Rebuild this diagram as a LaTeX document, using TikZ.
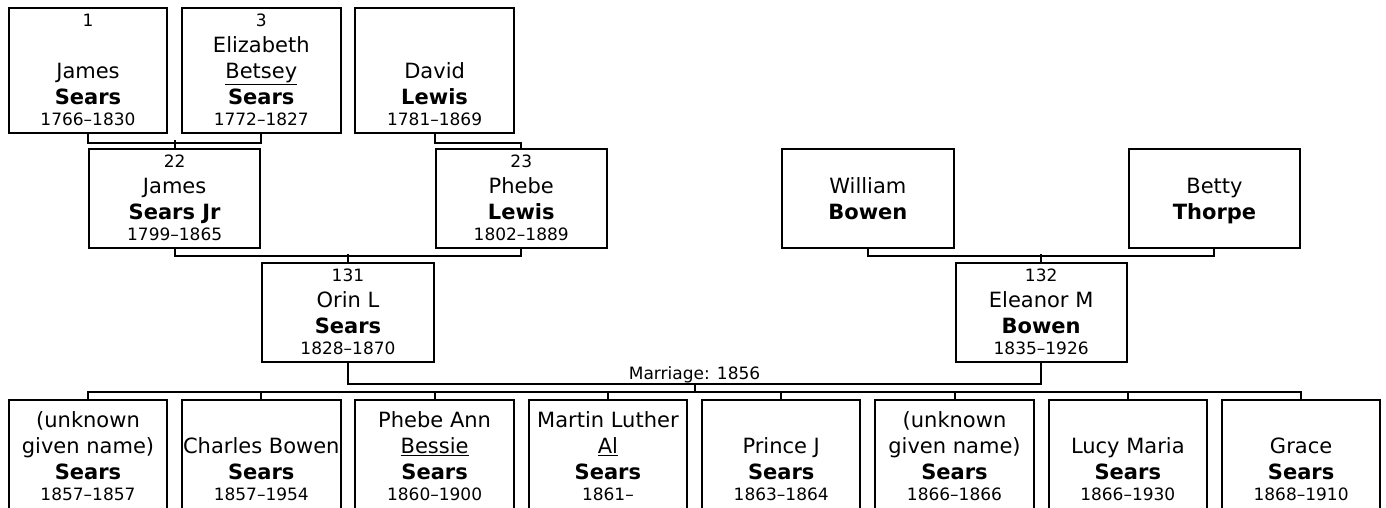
\documentclass[tikz,border=0pt]{standalone}
\usepackage{fontspec}
\setmainfont{DejaVu Sans}
\usetikzlibrary{positioning}

\newcommand{\yrs}[1]{{\fontsize{17}{19}\selectfont #1}\strut}
\newcommand{\idno}[1]{\strut{\fontsize{17}{19}\selectfont #1}}

\begin{document}
\begin{tikzpicture}[
    x=1pt, y=-1pt,
    node distance=12.8pt,
    person/.style={draw, line width=2pt, align=center, inner sep=0pt, font=\fontsize{21}{26}\selectfont},
    gen1/.style={person, minimum width=158.5pt, minimum height=122pt},
    gen2/.style={person, minimum width=171.3pt, minimum height=97pt},
    kid/.style={person, minimum width=158.5pt, minimum height=118pt},
    link/.style={line width=2pt}
]
\clip (0,0) rectangle (1386,508);
\node[gen1] (james) at (88,71) {\idno{1}\\ \\James\\\textbf{Sears}\\[-5pt]\yrs{1766–1830}};
\node[gen1, right=of james] (elizabeth) {\idno{3}\\Elizabeth\\\underline{Betsey}\\\textbf{Sears}\\[-5pt]\yrs{1772–1827}};
\node[gen1, right=of elizabeth] (david) {\strut\\ \\David\\\textbf{Lewis}\\[-5pt]\yrs{1781–1869}};
\node[gen2] (jamesjr) at (174.65,198.5) {\idno{22}\\James\\\textbf{Sears Jr}\\[-5pt]\yrs{1799–1865}};
\node[gen2] (phebe) at (521.25,198.5) {\idno{23}\\Phebe\\\textbf{Lewis}\\[-5pt]\yrs{1802–1889}};
\node[gen2] (william) at (867.85,198.5) {\strut\\William\\\textbf{Bowen}\\[-5pt]\strut};
\node[gen2] (betty) at (1214.45,198.5) {\strut\\Betty\\\textbf{Thorpe}\\[-5pt]\strut};
\node[gen2] (orin) at (347.95,312.5) {\idno{131}\\Orin L\\\textbf{Sears}\\[-5pt]\yrs{1828–1870}};
\node[gen2] (eleanor) at (1041.15,312.5) {\idno{132}\\Eleanor M\\\textbf{Bowen}\\[-5pt]\yrs{1835–1926}};
\node[kid, anchor=north] (kid1) at (88,399) {\strut(unknown\\given name)\\\textbf{Sears}\\[-5pt]\yrs{1857–1857}};
\node[kid, right=of kid1] (kid2) {\strut\\Charles Bowen\\\textbf{Sears}\\[-5pt]\yrs{1857–1954}};
\node[kid, right=of kid2] (kid3) {\strut Phebe Ann\\\underline{Bessie}\\\textbf{Sears}\\[-5pt]\yrs{1860–1900}};
\node[kid, right=of kid3] (kid4) {\strut Martin Luther\\\underline{Al}\\\textbf{Sears}\\[-5pt]\yrs{1861–}};
\node[kid, right=of kid4] (kid5) {\strut\\Prince J\\\textbf{Sears}\\[-5pt]\yrs{1863–1864}};
\node[kid, right=of kid5] (kid6) {\strut(unknown\\given name)\\\textbf{Sears}\\[-5pt]\yrs{1866–1866}};
\node[kid, right=of kid6] (kid7) {\strut\\Lucy Maria\\\textbf{Sears}\\[-5pt]\yrs{1866–1930}};
\node[kid, right=of kid7] (kid8) {\strut\\Grace\\\textbf{Sears}\\[-5pt]\yrs{1868–1910}};
\draw[link] (james.south) -- ++(0,8) -| (elizabeth.south);
\draw[link] (jamesjr.north) -- ++(0,-8);
\draw[link] (david.south) -- ++(0,8) -| (phebe.north);
\draw[link] (jamesjr.south) -- ++(0,6.5) -| (phebe.south);
\draw[link] (orin.north) -- ++(0,-8.5);
\draw[link] (william.south) -- ++(0,6.5) -| (betty.south);
\draw[link] (eleanor.north) -- ++(0,-8.5);
\draw[link] (orin.south) -- ++(0,21) -| (eleanor.south);
\coordinate (wed) at (694.55,383);
\node[anchor=base, font=\fontsize{17}{19}\selectfont] (marr) at (694.55,379.3) {Marriage: 1856};
\draw[link] (wed) -- ++(0,8.5);
\draw[link] (kid1.north) -- ++(0,-7.5) -| (kid8.north);
\foreach \k in {2,...,7}
    \draw[link] (kid\k.north) -- ++(0,-7.5);
\end{tikzpicture}
\end{document}
